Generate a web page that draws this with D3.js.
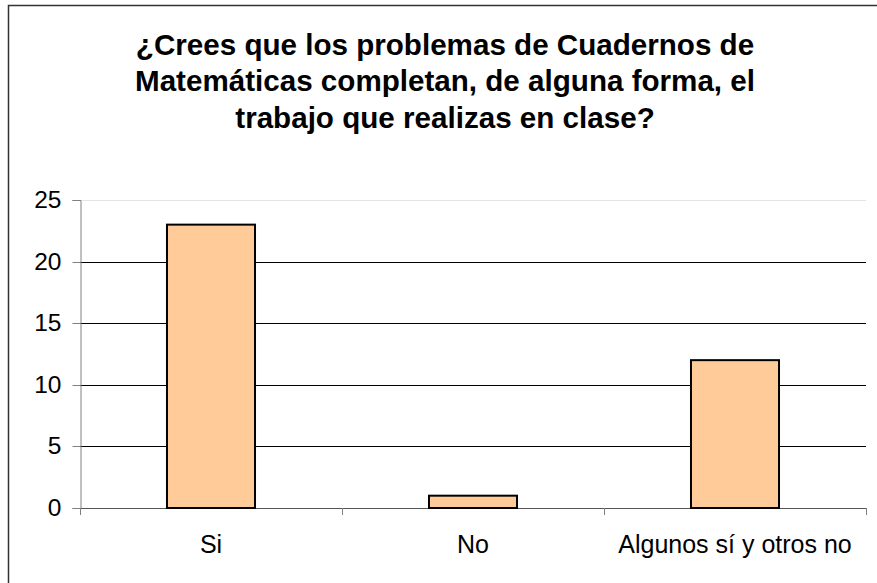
<!DOCTYPE html>
<html>
<head>
<meta charset="utf-8">
<script src="https://d3js.org/d3.v7.min.js"></script>
<style>
  body { margin: 0; background: #fff; }
  svg { display: block; font-family: "Liberation Sans", Arial, sans-serif; }
</style>
</head>
<body>
<svg></svg>
<script>
let categories = ["Si", "No", "Algunos sí y otros no"]
let values = [23, 1, 12]
let yTicks = [0, 5, 10, 15, 20, 25]
let titleLines = [
  "¿Crees que los problemas de Cuadernos de",
  "Matemáticas completan, de alguna forma, el",
  "trabajo que realizas en clase?"
]

let width = 877
let height = 583
let plotLeft = 80
let plotRight = 866
let plotTop = 200
let plotBottom = 508

let svg = d3.select("svg")
  .attr("width", width)
  .attr("height", height)

// outer frame, cut off on the right and bottom like the picture
svg.append("rect")
   .attr("x", 8.5)
   .attr("y", 5.5)
   .attr("width", 900)
   .attr("height", 600)
   .attr("fill", "none")
   .attr("stroke", "#333")
   .attr("stroke-width", 1.5)

svg.append("g")
   .selectAll("text")
   .data(titleLines)
   .enter()
   .append("text")
   .attr("x", 445)
   .attr("y", (d, i) => 54.5 + i * 36.5)
   .attr("text-anchor", "middle")
   .attr("font-size", 29.6)
   .attr("font-weight", "bold")
   .text(d => d)

let yScale = d3.scaleLinear()
               .domain([0, 25])
               .range([plotBottom, plotTop])

let xScale = d3.scaleBand()
               .domain(categories)
               .range([plotLeft, plotRight])
               .paddingInner(0.664)
               .paddingOuter(0.332)

// gridlines
svg.append("g")
   .selectAll("line")
   .data(yTicks.filter(t => t > 0))
   .enter()
   .append("line")
   .attr("x1", plotLeft)
   .attr("x2", plotRight)
   .attr("y1", d => Math.round(yScale(d)) + 0.5)
   .attr("y2", d => Math.round(yScale(d)) + 0.5)
   .attr("stroke", d => d === 25 ? "#e4e4e4" : "#000")
   .attr("stroke-width", 1)

let yAxis = d3.axisLeft(yScale)
              .tickValues(yTicks)
              .tickSize(8)
              .tickPadding(11)
svg.append("g")
   .attr("transform", "translate(" + (plotLeft + 0.5) + ",0)")
   .call(yAxis)
   .call(g => g.select(".domain").attr("stroke", "#808080"))
   .call(g => g.selectAll(".tick line").attr("stroke", "#808080"))
   .call(g => g.selectAll(".tick").attr("transform", d => "translate(0," + (Math.round(yScale(d)) + 0.5) + ")"))
   .call(g => g.selectAll("text").attr("font-size", 24.5).attr("fill", "#000").attr("font-family", "Liberation Sans, Arial, sans-serif"))

// category axis: ticks sit between the categories
let boundaries = categories.map(c => xScale(c) - xScale.step() * xScale.paddingOuter())
boundaries.push(plotRight)

svg.append("line")
   .attr("x1", plotLeft)
   .attr("x2", plotRight)
   .attr("y1", plotBottom + 0.5)
   .attr("y2", plotBottom + 0.5)
   .attr("stroke", "#555")

svg.append("g")
   .selectAll("line")
   .data(boundaries)
   .enter()
   .append("line")
   .attr("x1", d => Math.round(d) + 0.5)
   .attr("x2", d => Math.round(d) + 0.5)
   .attr("y1", plotBottom)
   .attr("y2", plotBottom + 7)
   .attr("stroke", "#808080")

svg.append("g")
   .selectAll("text")
   .data(categories)
   .enter()
   .append("text")
   .attr("x", d => xScale(d) + xScale.bandwidth() / 2)
   .attr("y", 553)
   .attr("text-anchor", "middle")
   .attr("font-size", 25)
   .text(d => d)

svg.append("g")
   .selectAll("rect")
   .data(values)
   .enter()
   .append("rect")
   .attr("x", (d, i) => xScale(categories[i]))
   .attr("y", d => yScale(d))
   .attr("width", xScale.bandwidth())
   .attr("height", d => plotBottom - yScale(d))
   .attr("fill", "#ffcc99")
   .attr("stroke", "#000")
   .attr("stroke-width", 2)
</script>
</body>
</html>
